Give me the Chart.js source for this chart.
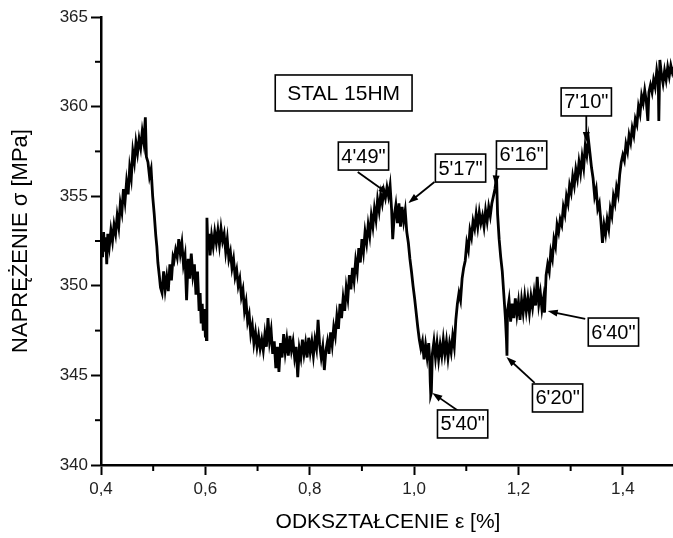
<!DOCTYPE html>
<html>
<head>
<meta charset="utf-8">
<script src="https://cdn.jsdelivr.net/npm/chart.js@4.4.1/dist/chart.umd.min.js"></script>
<style>
  html, body { margin: 0; padding: 0; background: #fff; overflow: hidden; }
  canvas { display: block; }
</style>
</head>
<body>
<canvas id="chart" width="680" height="538"></canvas>
<script>
// odkształcenie [%]
const strain = [
    0.400, 0.403, 0.405, 0.407, 0.409, 0.411, 0.413, 0.416, 0.419, 0.422, 0.425, 0.428, 0.431, 0.434,
    0.437, 0.440, 0.443, 0.446, 0.449, 0.452, 0.455, 0.458, 0.461, 0.464, 0.467, 0.470, 0.473, 0.476,
    0.479, 0.482, 0.485, 0.487, 0.490, 0.493, 0.496, 0.499, 0.502, 0.505, 0.507, 0.509, 0.512, 0.514,
    0.517, 0.520, 0.523, 0.526, 0.529, 0.532, 0.535, 0.538, 0.540, 0.543, 0.546, 0.549, 0.552, 0.555,
    0.558, 0.561, 0.564, 0.567, 0.570, 0.573, 0.576, 0.579, 0.582, 0.585, 0.588, 0.590, 0.592, 0.594,
    0.596, 0.598, 0.600, 0.601, 0.602, 0.603, 0.605, 0.607, 0.609, 0.612, 0.615, 0.618, 0.621, 0.624,
    0.627, 0.630, 0.633, 0.636, 0.639, 0.642, 0.645, 0.648, 0.651, 0.654, 0.657, 0.660, 0.663, 0.666,
    0.669, 0.672, 0.675, 0.678, 0.681, 0.684, 0.687, 0.690, 0.693, 0.696, 0.699, 0.702, 0.705, 0.708,
    0.711, 0.714, 0.717, 0.720, 0.723, 0.726, 0.729, 0.732, 0.735, 0.738, 0.741, 0.744, 0.747, 0.750,
    0.753, 0.756, 0.759, 0.762, 0.765, 0.768, 0.771, 0.774, 0.777, 0.780, 0.783, 0.786, 0.789, 0.792,
    0.795, 0.798, 0.801, 0.804, 0.807, 0.810, 0.813, 0.816, 0.819, 0.822, 0.825, 0.828, 0.831, 0.834,
    0.837, 0.840, 0.843, 0.846, 0.849, 0.852, 0.855, 0.858, 0.861, 0.864, 0.867, 0.870, 0.873, 0.876,
    0.879, 0.882, 0.885, 0.888, 0.891, 0.894, 0.897, 0.900, 0.903, 0.906, 0.909, 0.912, 0.915, 0.918,
    0.921, 0.924, 0.927, 0.930, 0.933, 0.936, 0.939, 0.942, 0.945, 0.948, 0.951, 0.954, 0.957, 0.959,
    0.962, 0.965, 0.968, 0.971, 0.974, 0.977, 0.980, 0.983, 0.986, 0.989, 0.992, 0.995, 0.998, 1.001,
    1.004, 1.007, 1.010, 1.013, 1.016, 1.019, 1.022, 1.025, 1.028, 1.030, 1.031, 1.032, 1.033, 1.035,
    1.038, 1.041, 1.044, 1.047, 1.050, 1.053, 1.056, 1.059, 1.062, 1.065, 1.068, 1.071, 1.074, 1.077,
    1.080, 1.083, 1.086, 1.089, 1.092, 1.095, 1.098, 1.101, 1.104, 1.107, 1.110, 1.113, 1.116, 1.119,
    1.122, 1.125, 1.128, 1.131, 1.134, 1.137, 1.140, 1.143, 1.146, 1.149, 1.152, 1.155, 1.158, 1.160,
    1.163, 1.166, 1.169, 1.172, 1.175, 1.177, 1.178, 1.179, 1.182, 1.185, 1.188, 1.191, 1.194, 1.197,
    1.200, 1.203, 1.206, 1.209, 1.212, 1.215, 1.218, 1.221, 1.224, 1.227, 1.230, 1.233, 1.236, 1.239,
    1.242, 1.245, 1.248, 1.250, 1.253, 1.256, 1.259, 1.262, 1.265, 1.268, 1.271, 1.274, 1.277, 1.280,
    1.283, 1.286, 1.289, 1.292, 1.295, 1.298, 1.301, 1.304, 1.307, 1.310, 1.313, 1.316, 1.319, 1.322,
    1.325, 1.328, 1.331, 1.334, 1.337, 1.340, 1.343, 1.346, 1.349, 1.352, 1.355, 1.358, 1.361, 1.364,
    1.367, 1.370, 1.373, 1.376, 1.379, 1.382, 1.385, 1.388, 1.391, 1.394, 1.397, 1.400, 1.403, 1.406,
    1.409, 1.412, 1.415, 1.418, 1.421, 1.424, 1.427, 1.430, 1.433, 1.436, 1.439, 1.442, 1.445, 1.448,
    1.450, 1.453, 1.456, 1.459, 1.462, 1.465, 1.468, 1.469, 1.471, 1.474, 1.477, 1.480, 1.483, 1.486,
    1.489, 1.492, 1.495, 1.498
];

// naprężenie [MPa]
const stress = [
    352.4, 351.6, 353.0, 351.9, 352.7, 351.2, 352.9, 352.2, 353.1, 352.5, 353.4, 352.9, 353.9, 353.3,
    354.6, 354.1, 355.4, 354.7, 355.8, 355.1, 356.6, 356.0, 357.5, 356.9, 358.0, 357.4, 358.2, 357.7,
    358.6, 358.0, 359.4, 357.2, 356.9, 356.1, 356.5, 355.0, 354.0, 352.8, 352.2, 351.3, 350.5, 349.9,
    349.6, 350.8, 349.8, 350.5, 349.7, 351.2, 350.3, 351.6, 351.4, 352.0, 351.6, 352.6, 351.8, 352.4,
    351.2, 351.7, 349.2, 351.5, 350.4, 351.8, 350.6, 351.2, 349.5, 350.8, 348.6, 349.6, 347.9, 349.0,
    347.5, 348.7, 347.2, 348.4, 347.0, 353.8, 352.0, 352.9, 351.7, 352.8, 352.2, 353.0, 352.4, 353.1,
    352.3, 353.2, 352.5, 352.9, 351.9, 352.6, 351.5, 351.9, 351.0, 351.5, 350.5, 350.9, 350.0, 350.4,
    349.4, 349.8, 348.6, 349.1, 348.0, 348.4, 347.3, 347.8, 346.8, 347.4, 346.6, 347.2, 346.5, 347.0,
    346.4, 347.3, 346.6, 348.2, 346.9, 347.5, 346.2, 346.9, 345.4, 346.6, 345.2, 346.8, 346.0, 347.3,
    346.3, 347.0, 346.1, 347.2, 346.4, 346.9, 346.0, 346.6, 344.9, 346.5, 346.0, 347.0, 346.2, 346.8,
    346.0, 347.1, 346.3, 346.9, 346.1, 347.0, 346.5, 348.1, 346.7, 346.0, 346.6, 345.3, 346.4, 346.9,
    346.2, 347.4, 346.7, 347.7, 347.2, 348.3, 347.6, 349.0, 348.2, 349.3, 348.6, 349.9, 349.3, 350.6,
    349.8, 351.0, 350.3, 351.4, 350.8, 352.1, 351.3, 352.6, 351.9, 353.0, 352.4, 353.4, 352.8, 353.9,
    353.3, 354.3, 353.7, 354.8, 354.2, 355.1, 354.6, 355.3, 354.9, 355.5, 355.0, 355.6, 354.2, 352.6,
    353.9, 354.5, 353.5, 354.6, 353.3, 354.4, 353.6, 354.2, 353.0, 352.4, 351.5, 350.8, 350.0, 349.3,
    348.5, 347.7, 347.0, 346.5, 346.9, 345.9, 346.7, 346.0, 346.8, 345.8, 344.6, 343.9, 344.0, 346.2,
    346.9, 346.0, 346.8, 345.9, 346.7, 346.1, 347.0, 346.2, 346.9, 346.0, 346.8, 346.3, 347.2, 346.6,
    348.1, 349.0, 349.6, 349.2, 350.4, 351.0, 351.4, 352.4, 352.0, 353.1, 352.7, 353.6, 353.2, 354.0,
    353.3, 354.1, 353.5, 353.9, 353.3, 354.2, 353.6, 354.4, 353.9, 354.6, 355.0, 355.4, 356.1, 354.0,
    352.6, 351.6, 350.8, 349.5, 348.2, 347.0, 346.1, 348.6, 349.2, 348.0, 349.0, 348.2, 349.3, 348.4,
    349.1, 348.1, 349.2, 348.5, 349.4, 348.6, 349.3, 348.5, 349.4, 348.8, 349.6, 348.9, 350.5, 349.0,
    349.6, 348.7, 349.3, 348.5, 350.6, 351.2, 350.8, 351.9, 351.5, 352.6, 352.2, 353.4, 353.0, 353.7,
    353.4, 354.4, 354.0, 355.0, 354.6, 355.6, 355.2, 356.1, 355.6, 356.5, 356.0, 356.9, 356.3, 357.2,
    356.6, 357.8, 357.3, 358.2, 357.4, 356.6, 356.0, 355.0, 355.4, 354.3, 354.6, 353.6, 352.4, 353.4,
    352.9, 353.7, 353.2, 354.3, 353.9, 355.0, 354.6, 355.5, 355.1, 356.2, 356.9, 357.3, 357.0, 357.9,
    357.5, 358.4, 358.0, 358.8, 358.4, 359.3, 359.0, 360.0, 359.6, 360.6, 360.2, 360.9, 360.3, 359.2,
    360.8, 361.2, 360.8, 361.5, 361.1, 362.0, 361.4, 359.2, 362.6, 361.8, 361.3, 362.0, 361.5, 362.2,
    361.7, 362.3, 361.9, 362.2
];

// opisy: ramka w punkcie (boxX, boxY), strzałka od (tailX, tailY) do (tipX, tipY)
const noteText = ['STAL 15HM', '4\'49"', '5\'17"', '6\'16"', '7\'10"', '5\'40"', '6\'20"', '6\'40"'];
const noteBoxX = [0.865, 0.903, 1.089, 1.206, 1.330, 1.093, 1.275, 1.382];
const noteBoxY = [360.76, 357.24, 356.57, 357.30, 360.26, 342.29, 343.74, 347.42];
const noteTailX = [null, 0.892, 1.039, 1.158, 1.330, 1.085, 1.231, 1.328];
const noteTailY = [null, 356.35, 355.79, 356.46, 359.53, 343.01, 344.58, 348.15];
const noteTipX = [null, 0.951, 0.989, 1.156, 1.330, 1.035, 1.177, 1.256];
const noteTipY = [null, 355.12, 354.62, 355.60, 358.02, 344.02, 346.03, 348.59];

const xMajor = v => Math.round(v * 10) % 2 === 0;
const yMajor = v => Math.round(v * 2) % 10 === 0;

const fontFamily = "'Liberation Sans', Arial, sans-serif";

// krótkie podziałki pośrednie
const minorTicks = {
    id: 'minorTicks',
    afterDraw(chart) {
        const ctx = chart.ctx;
        const area = chart.chartArea;
        const xs = chart.scales.x;
        const ys = chart.scales.y;
        ctx.save();
        ctx.strokeStyle = '#000';
        ctx.lineWidth = 2;
        xs.ticks.forEach(t => {
            if (xMajor(t.value)) return;
            const px = xs.getPixelForValue(t.value);
            ctx.beginPath();
            ctx.moveTo(px, area.bottom);
            ctx.lineTo(px, area.bottom + 6);
            ctx.stroke();
        });
        ys.ticks.forEach(t => {
            if (yMajor(t.value)) return;
            const py = ys.getPixelForValue(t.value);
            ctx.beginPath();
            ctx.moveTo(area.left - 6, py);
            ctx.lineTo(area.left, py);
            ctx.stroke();
        });
        ctx.restore();
    }
};

function arrow(ctx, x1, y1, x2, y2) {
    const a = Math.atan2(y2 - y1, x2 - x1);
    const len = 10, w = 3.5;
    ctx.beginPath();
    ctx.moveTo(x1, y1);
    ctx.lineTo(x2 - Math.cos(a) * len * 0.6, y2 - Math.sin(a) * len * 0.6);
    ctx.stroke();
    ctx.beginPath();
    ctx.moveTo(x2, y2);
    ctx.lineTo(x2 - Math.cos(a) * len - Math.sin(a) * w, y2 - Math.sin(a) * len + Math.cos(a) * w);
    ctx.lineTo(x2 - Math.cos(a) * len + Math.sin(a) * w, y2 - Math.sin(a) * len - Math.cos(a) * w);
    ctx.closePath();
    ctx.fill();
}

const notes = {
    id: 'notes',
    afterDatasetsDraw(chart) {
        const ctx = chart.ctx;
        const xs = chart.scales.x;
        const ys = chart.scales.y;
        ctx.save();
        ctx.strokeStyle = '#000';
        ctx.fillStyle = '#000';
        ctx.lineWidth = 1.8;
        noteText.forEach((text, i) => {
            if (noteTipX[i] !== null) {
                arrow(ctx,
                    xs.getPixelForValue(noteTailX[i]), ys.getPixelForValue(noteTailY[i]),
                    xs.getPixelForValue(noteTipX[i]), ys.getPixelForValue(noteTipY[i]));
            }
        });
        noteText.forEach((text, i) => {
            const big = i === 0;
            ctx.font = (big ? 21 : 20) + 'px ' + fontFamily;
            const w = ctx.measureText(text).width + (big ? 24 : 6);
            const h = big ? 36 : 28;
            const cx = xs.getPixelForValue(noteBoxX[i]);
            const cy = ys.getPixelForValue(noteBoxY[i]);
            ctx.fillStyle = '#fff';
            ctx.fillRect(cx - w / 2, cy - h / 2, w, h);
            ctx.lineWidth = 1.6;
            ctx.strokeRect(cx - w / 2, cy - h / 2, w, h);
            ctx.fillStyle = '#000';
            ctx.textAlign = 'center';
            ctx.textBaseline = 'middle';
            ctx.fillText(text, cx, cy + 1);
        });
        ctx.restore();
    }
};

const ctx = document.getElementById('chart');
new Chart(ctx, {
    type: 'line',
    data: {
        datasets: [{
            data: strain.map((x, i) => ({ x: x, y: stress[i] })),
            borderColor: '#000',
            borderWidth: 2.8,
            pointRadius: 0,
            tension: 0,
            fill: false
        }]
    },
    options: {
        responsive: false,
        animation: false,
        devicePixelRatio: 1,
        layout: { padding: { top: 17, right: 5, left: 0, bottom: 0 } },
        plugins: {
            legend: { display: false },
            tooltip: { enabled: false }
        },
        scales: {
            x: {
                type: 'linear',
                min: 0.4,
                max: 1.5,
                afterFit: function (scale) { scale.height = 73; },
                border: { display: true, color: '#000', width: 2.5 },
                grid: {
                    drawOnChartArea: false,
                    drawTicks: true,
                    tickLength: 10,
                    tickWidth: 2,
                    tickColor: c => (c.tick && xMajor(c.tick.value)) ? '#000' : 'rgba(0,0,0,0)'
                },
                ticks: {
                    stepSize: 0.1,
                    maxRotation: 0,
                    autoSkip: false,
                    padding: 4,
                    color: '#222',
                    font: { family: fontFamily, size: 17 },
                    callback: function (value) {
                        return xMajor(value) ? value.toFixed(1).replace('.', ',') : '';
                    }
                },
                title: {
                    display: true,
                    text: 'ODKSZTAŁCENIE ε [%]',
                    color: '#000',
                    font: { family: fontFamily, size: 21 },
                    padding: { top: 0, bottom: 3 }
                }
            },
            y: {
                min: 340,
                max: 365,
                afterFit: function (scale) { scale.width = 101; },
                border: { display: true, color: '#000', width: 2.5 },
                grid: {
                    drawOnChartArea: false,
                    drawTicks: true,
                    tickLength: 10,
                    tickWidth: 2,
                    tickColor: c => (c.tick && yMajor(c.tick.value)) ? '#000' : 'rgba(0,0,0,0)'
                },
                ticks: {
                    stepSize: 2.5,
                    autoSkip: false,
                    padding: 3,
                    color: '#222',
                    font: { family: fontFamily, size: 17 },
                    callback: function (value) {
                        return yMajor(value) ? String(value) : '';
                    }
                },
                title: {
                    display: true,
                    text: 'NAPRĘŻENIE σ [MPa]',
                    color: '#000',
                    font: { family: fontFamily, size: 22 },
                    padding: { top: 8, bottom: 0 }
                }
            }
        }
    },
    plugins: [minorTicks, notes]
});
</script>
</body>
</html>
